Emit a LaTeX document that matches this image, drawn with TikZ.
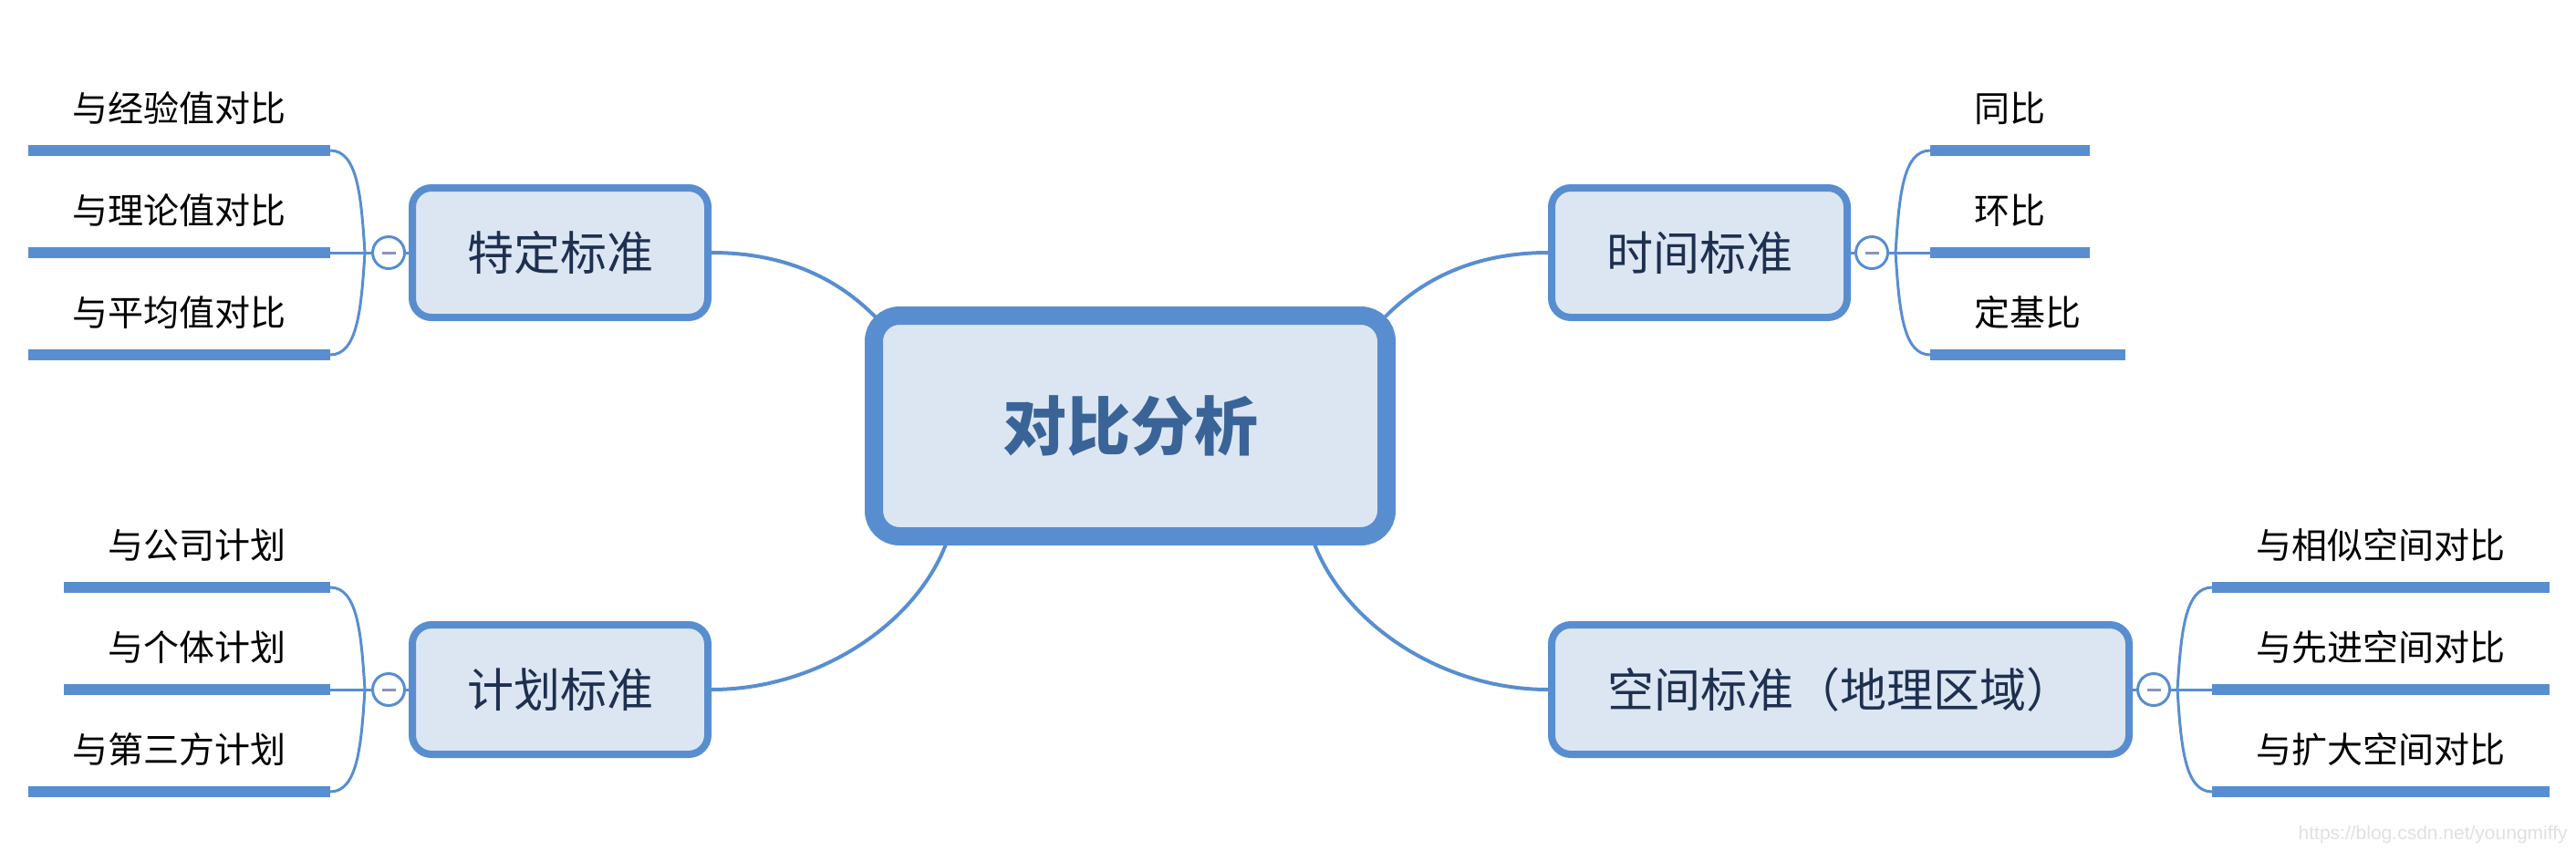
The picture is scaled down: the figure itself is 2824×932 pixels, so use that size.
\documentclass[tikz,border=0pt]{standalone}
\usepackage{fontspec}
\newfontfamily\cjk{Noto Sans CJK SC}
\newfontfamily\wmfont{Liberation Sans}
\usetikzlibrary{calc,backgrounds}
\definecolor{mblue}{RGB}{88,142,208}
\definecolor{fillc}{RGB}{220,230,242}
\definecolor{navy}{RGB}{30,48,80}
\definecolor{ctext}{RGB}{58,100,152}
\definecolor{minusc}{RGB}{140,146,190}
\newcommand{\minusbar}{\textcolor{minusc}{\rule{7.5pt}{1.5pt}}}
\begin{document}
\begin{tikzpicture}[x=0.5pt,y=-0.5pt,
  centralbox/.style={draw=mblue, fill=fillc, line width=10pt, rounded corners=14pt,
    minimum width=281pt, minimum height=121pt, inner sep=0pt, outer sep=0pt,
    font=\cjk\bfseries\fontsize{35pt}{40pt}\selectfont, text=ctext},
  branchbox/.style={draw=mblue, fill=fillc, line width=4pt, rounded corners=10.5pt,
    minimum height=71pt, inner sep=0pt,
    font=\cjk\fontsize{25.5pt}{30pt}\selectfont, text=navy},
  toggle/.style={circle, draw=mblue, fill=white, line width=1.5pt,
    minimum size=17.5pt, inner sep=0pt},
  leaf/.style={inner xsep=24pt, inner ysep=15.5pt, text depth=0pt,
    font=\cjk\fontsize{19.5pt}{23pt}\selectfont, text=black},
  bar/.style={draw=mblue, line width=6pt},
  link/.style={draw=mblue, line width=2pt},
  twig/.style={draw=mblue, line width=1.5pt}
]
\useasboundingbox (0,0) rectangle (2824,932);

% central and branch nodes
\node[centralbox] (c) at (1239,467) {对比分析};
\node[branchbox, minimum width=162pt] (b1) at (614,277) {特定标准};
\node[branchbox, minimum width=162pt] (b2) at (1863,277) {时间标准};
\node[branchbox, minimum width=162pt] (b3) at (614,756) {计划标准};
\node[branchbox, minimum width=316.5pt] (b4) at (2017.5,756) {空间标准（地理区域）};

% toggles
\node[toggle] (t1) at (426,277) {\minusbar};
\node[toggle] (t2) at (2052,277) {\minusbar};
\node[toggle] (t3) at (426,756) {\minusbar};
\node[toggle] (t4) at (2361,756) {\minusbar};

% leaves
\node[leaf, anchor=south east] (l11) at (362,165) {与经验值对比};
\node[leaf, anchor=south east] (l12) at (362,277) {与理论值对比};
\node[leaf, anchor=south east] (l13) at (362,389) {与平均值对比};
\node[leaf, anchor=south west] (l21) at (2116,165) {同比};
\node[leaf, anchor=south west] (l22) at (2116,277) {环比};
\node[leaf, anchor=south west] (l23) at (2116,389) {定基比};
\node[leaf, anchor=south east] (l31) at (362,644) {与公司计划};
\node[leaf, anchor=south east] (l32) at (362,756) {与个体计划};
\node[leaf, anchor=south east] (l33) at (362,868) {与第三方计划};
\node[leaf, anchor=south west] (l41) at (2425,644) {与相似空间对比};
\node[leaf, anchor=south west] (l42) at (2425,756) {与先进空间对比};
\node[leaf, anchor=south west] (l43) at (2425,868) {与扩大空间对比};

\foreach \n in {l11,l12,l13,l21,l22,l23,l31,l32,l33,l41,l42,l43}
  \draw[bar] (\n.south west) -- (\n.south east);

% junction points
\coordinate (j1) at ($(t1.west)+(-7,0)$);
\coordinate (j2) at ($(t2.east)+(7,0)$);
\coordinate (j3) at ($(t3.west)+(-7,0)$);
\coordinate (j4) at ($(t4.east)+(7,0)$);

\begin{scope}[on background layer]
  % main links
  \draw[link] (b1.east) .. controls (860,277) and (920,305) .. ($(c.north west)+(6,6)$);
  \draw[link] (b2.west) .. controls (1618,277) and (1558,305) .. ($(c.north east)+(-6,6)$);
  \draw[link] (b3.east) .. controls (900,756) and (1010,680) .. ($(c.south west)!0.146!(c.south east)$);
  \draw[link] (b4.west) .. controls (1578,756) and (1468,680) .. ($(c.south west)!0.854!(c.south east)$);

  % left top group
  \draw[twig] (j1) .. controls +(-4,-62) and +(30,0) .. (l11.south east);
  \draw[twig] (j1) .. controls +(-4,62) and +(30,0) .. (l13.south east);
  \draw[twig] (l12.south east) -- (t1.west);
  \draw[twig] (t1.east) -- (b1.west);
  % right top group
  \draw[twig] (j2) .. controls +(4,-62) and +(-30,0) .. (l21.south west);
  \draw[twig] (j2) .. controls +(4,62) and +(-30,0) .. (l23.south west);
  \draw[twig] (l22.south west) -- (t2.east);
  \draw[twig] (b2.east) -- (t2.west);
  % left bottom group
  \draw[twig] (j3) .. controls +(-4,-62) and +(30,0) .. (l31.south east);
  \draw[twig] (j3) .. controls +(-4,62) and +(30,0) .. (l33.south east);
  \draw[twig] (l32.south east) -- (t3.west);
  \draw[twig] (t3.east) -- (b3.west);
  % right bottom group
  \draw[twig] (j4) .. controls +(4,-62) and +(-30,0) .. (l41.south west);
  \draw[twig] (j4) .. controls +(4,62) and +(-30,0) .. (l43.south west);
  \draw[twig] (l42.south west) -- (t4.east);
  \draw[twig] (b4.east) -- (t4.west);
\end{scope}

% watermark
\node[anchor=base east, inner sep=0pt, text=black!12,
  font=\wmfont\fontsize{10.5pt}{12pt}\selectfont] (wm) at (2815,920) {https://blog.csdn.net/youngmiffy};
\end{tikzpicture}
\end{document}
